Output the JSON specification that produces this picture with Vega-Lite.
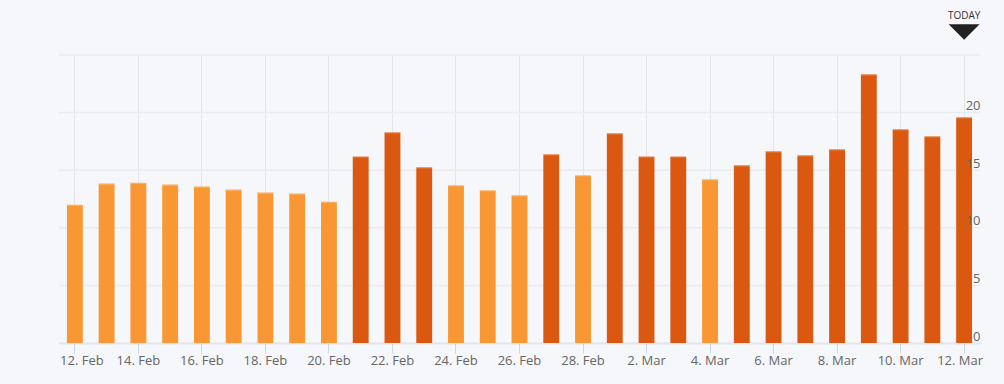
{
  "$schema": "https://vega.github.io/schema/vega-lite/v6.json",
  "width": 921,
  "height": 288,
  "autosize": "none",
  "padding": {"left": 59, "top": 55, "right": 24, "bottom": 41},
  "background": "#f5f7fa",
  "config": {"view": {"stroke": null}, "font": "Open Sans"},
  "datasets": {
    "bars": [
      {"date": "12. Feb", "value": 12.0},
      {"date": "13. Feb", "value": 13.84},
      {"date": "14. Feb", "value": 13.92},
      {"date": "15. Feb", "value": 13.75},
      {"date": "16. Feb", "value": 13.58},
      {"date": "17. Feb", "value": 13.32},
      {"date": "18. Feb", "value": 13.06},
      {"date": "19. Feb", "value": 12.97},
      {"date": "20. Feb", "value": 12.27},
      {"date": "21. Feb", "value": 16.2},
      {"date": "22. Feb", "value": 18.29},
      {"date": "23. Feb", "value": 15.25},
      {"date": "24. Feb", "value": 13.69},
      {"date": "25. Feb", "value": 13.26},
      {"date": "26. Feb", "value": 12.82},
      {"date": "27. Feb", "value": 16.38},
      {"date": "28. Feb", "value": 14.56},
      {"date": "1. Mar", "value": 18.2},
      {"date": "2. Mar", "value": 16.2},
      {"date": "3. Mar", "value": 16.2},
      {"date": "4. Mar", "value": 14.21},
      {"date": "5. Mar", "value": 15.42},
      {"date": "6. Mar", "value": 16.64},
      {"date": "7. Mar", "value": 16.29},
      {"date": "8. Mar", "value": 16.81},
      {"date": "9. Mar", "value": 23.32},
      {"date": "10. Mar", "value": 18.55},
      {"date": "11. Mar", "value": 17.94},
      {"date": "12. Mar", "value": 19.59}
    ],
    "grid": [
      {"value": 0}, {"value": 5}, {"value": 10}, {"value": 15}, {"value": 20}, {"value": 25}
    ],
    "today": [
      {"date": "12. Mar", "label": "TODAY", "value": 25}
    ]
  },
  "encoding": {
    "y": {
      "field": "value",
      "type": "quantitative",
      "scale": {"domain": [0, 25], "nice": false, "zero": true},
      "axis": {
        "orient": "right",
        "title": null,
        "values": [0, 5, 10, 15, 20],
        "grid": false,
        "domain": false,
        "ticks": false,
        "tickSize": 0,
        "labelPadding": 0,
        "labelAlign": "right",
        "labelBaseline": "alphabetic",
        "labelOffset": -3,
        "labelFont": "Open Sans",
        "labelFontSize": 13,
        "labelColor": "#666666",
        "zindex": 1
      }
    }
  },
  "layer": [
    {
      "data": {"name": "grid"},
      "mark": {"type": "rule", "color": "#e9ebee", "strokeWidth": 1.5}
    },
    {
      "data": {"name": "bars"},
      "mark": {"type": "bar"},
      "encoding": {
        "x": {
          "field": "date",
          "type": "ordinal",
          "sort": null,
          "scale": {"paddingInner": 0.5, "paddingOuter": 0.25},
          "axis": {
            "title": null,
            "values": ["12. Feb", "14. Feb", "16. Feb", "18. Feb", "20. Feb", "22. Feb", "24. Feb", "26. Feb", "28. Feb", "2. Mar", "4. Mar", "6. Mar", "8. Mar", "10. Mar", "12. Mar"],
            "labelAngle": 0,
            "labelFont": "Open Sans",
            "labelFontSize": 13,
            "labelColor": "#666666",
            "labelPadding": 1,
            "labelOffset": {"condition": [{"test": "datum.value === '12. Feb'", "value": 7}, {"test": "datum.value === '12. Mar'", "value": -4}], "value": 0},
            "tickColor": "#ccd6eb",
            "tickSize": 10,
            "tickWidth": 1,
            "domainColor": "#ccd6eb",
            "domainWidth": 1.5,
            "grid": true,
            "gridColor": "#e3e4e8",
            "gridWidth": 1,
            "bandPosition": 0.5,
            "zindex": 0
          }
        },
        "color": {
          "field": "value",
          "type": "quantitative",
          "scale": {"type": "threshold", "domain": [15], "range": ["#f99734", "#db5810"]},
          "legend": null
        }
      }
    },
    {
      "data": {"name": "bars"},
      "mark": {"type": "tick", "color": "#ffffff", "opacity": 0.35, "thickness": 1, "size": 16, "yOffset": 0.5},
      "encoding": {
        "x": {"field": "date", "type": "ordinal", "sort": null}
      }
    },
    {
      "data": {"name": "today"},
      "mark": {"type": "point", "shape": "M -1 -0.5 L 1 -0.5 L 0 0.5 Z", "filled": true, "color": "#222222", "size": 961, "opacity": 1, "yOffset": -23},
      "encoding": {
        "x": {"field": "date", "type": "ordinal", "sort": null}
      }
    },
    {
      "data": {"name": "today"},
      "mark": {"type": "text", "font": "Open Sans", "fontSize": 10, "color": "#333333", "baseline": "alphabetic", "align": "center", "yOffset": -36.5},
      "encoding": {
        "x": {"field": "date", "type": "ordinal", "sort": null},
        "text": {"field": "label"}
      }
    }
  ]
}
